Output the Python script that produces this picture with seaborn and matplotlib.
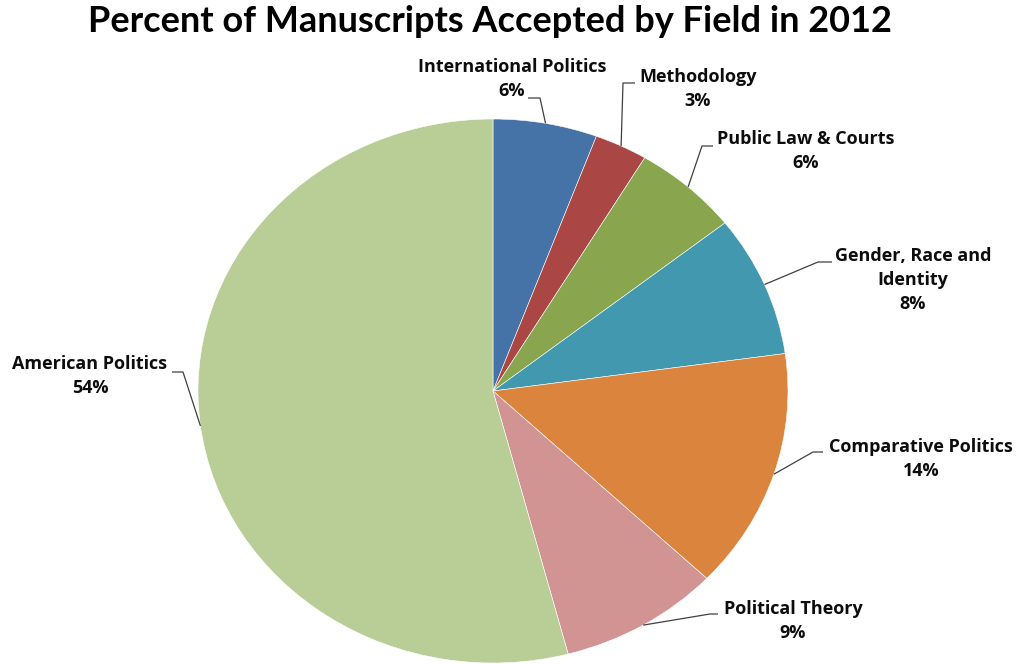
import numpy as np
import matplotlib
matplotlib.use("Agg")
import matplotlib.pyplot as plt
import seaborn as sns

# ---- data ----
fields = ["International Politics", "Methodology", "Public Law & Courts",
          "Gender, Race and\nIdentity", "Comparative Politics",
          "Political Theory", "American Politics"]
percent = [5.7, 2.9, 5.8, 8.4, 14.3, 8.8, 54.1]
colors = ["#4572A7", "#AA4643", "#89A54E", "#4198AF", "#DB843D",
          "#D29493", "#B9CD96"]
title = "Percent of Manuscripts Accepted by Field in 2012"

sns.set_theme(style="white")
plt.rcParams["font.family"] = ["Lato", "DejaVu Sans"]

W, H = 1019, 664
fig = plt.figure(figsize=(W / 100, H / 100), dpi=100)
ax = fig.add_axes([0, 0, 1, 1])

# pie geometry in pixels (elliptical as in the reference)
cx, cy, rx, ry = 493, 391, 295, 272

def px(x, y):
    return ((x - cx) / rx, (cy - y) / ry)

wedges, _ = ax.pie(percent, colors=colors, startangle=90, counterclock=False,
                   wedgeprops=dict(edgecolor="white", linewidth=0.4))
ax.set_aspect("auto")
ax.set_xlim(-cx / rx, (W - cx) / rx)
ax.set_ylim((cy - H) / ry, cy / ry)
ax.axis("off")

# label layout: text center (px), elbow start (px), elbow end (px)
layout = [
    ((512, 79), (528, 98), (540, 98)),
    ((698, 89), (635, 83), (623, 83)),
    ((806, 151), (713, 146), (702, 146)),
    ((913, 280), (832, 262), (818, 262)),
    ((921, 459), (823, 452), (813, 452)),
    ((793, 621), (718, 614), (710, 614)),
    ((90, 376), (172, 372), (183, 372)),
]

for w, name, p, (tpos, e1, e2) in zip(wedges, fields, percent, layout):
    ang = np.deg2rad((w.theta1 + w.theta2) / 2)
    edge = (np.cos(ang), np.sin(ang))
    a = px(*e1)
    b = px(*e2)
    ax.plot([a[0], b[0], edge[0]], [a[1], b[1], edge[1]], color="#404040",
            lw=0.9, solid_capstyle="butt")
    tx, ty = px(*tpos)
    ax.text(tx, ty, f"{name}\n{round(p)}%", ha="center", va="center",
            fontsize=13, fontweight="bold", color="#0d0d0d",
            family=["Open Sans", "DejaVu Sans"],
            linespacing=1.42, multialignment="center")

fig.text(490 / W, 1 - 22 / H, title, ha="center", va="center",
         fontsize=26, fontweight="bold", color="black")

fig.savefig("out.png", dpi=100)
